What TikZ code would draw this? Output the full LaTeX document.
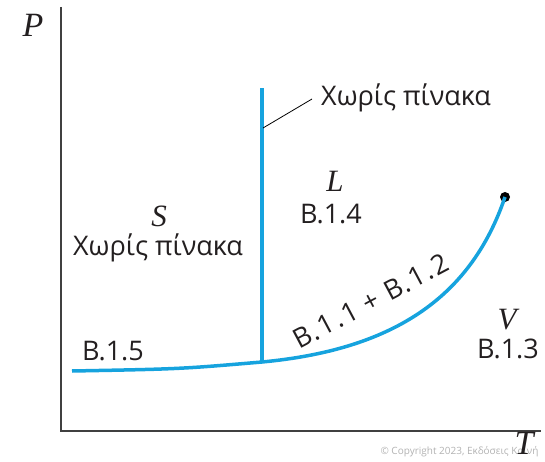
\documentclass[tikz,border=0pt]{standalone}
\usepackage{fontspec}
\setmainfont{Open Sans}
\newfontfamily\varfont{Liberation Serif}
\newfontfamily\espaciada[LetterSpace=7]{Open Sans}
\usetikzlibrary{calc, positioning}
\definecolor{curvablue}{RGB}{22,163,222}
\definecolor{tinta}{RGB}{35,31,32}
\tikzset{
  rotulo/.style={text=tinta, font=\fontsize{27}{29}\selectfont, inner sep=0pt},
  varletra/.style={text=tinta, font=\varfont\itshape\fontsize{31}{33}\selectfont, inner sep=0pt},
  ejeletra/.style={varletra, font=\varfont\itshape\fontsize{34}{36}\selectfont},
  curva/.style={curvablue, line width=3.5pt}
}

\begin{document}
\begin{tikzpicture}[x=1pt, y=-1pt]
\useasboundingbox (0,0) rectangle (545,462);
% Ejes
\coordinate (origen) at (61,431);
\coordinate (ejeP) at (61,7);
\coordinate (ejeT) at (541,431);
\draw[line width=2pt, black!75] (ejeP) -- (origen) -- (ejeT);
\node[ejeletra] (P) at (33,25) {P};
% Curvas de equilibrio
\coordinate (inicio) at (72,371);
\coordinate (triple) at (262,362);
\coordinate (tope) at (262,88);
\node[circle, fill=black, inner sep=0pt, minimum size=10pt] (critico) at (505,197) {};
\draw[curva] (inicio) .. controls (180,369) .. (triple)
  .. controls (390,350) and (470,300) .. (critico.center);
\draw[curva] (triple) -- (tope);
% Rotulos
\coordinate (marca) at (263,128);
\node[rotulo, anchor=west] (sinpinA) at (321,98) {Χωρίς πίνακα};
\draw[line width=0.8pt, black] (marca) -- ($(sinpinA.west)+(-9,1)$);
\node[varletra] (S) at (159,216) {S};
\node[rotulo] (sinpinB) at (158,248) {Χωρίς πίνακα};
\node[varletra] (L) at (335,181) {L};
\node[rotulo] (B14) at (331,214) {B.1.4};
\node[rotulo] (B15) at (113,351) {B.1.5};
\node[varletra] (V) at (507,320) {V};
\node[rotulo] (B13) at (508,349) {B.1.3};
\node[rotulo, font=\espaciada\fontsize{27}{29}\selectfont, rotate=28] (B11) at (371,301) {B.1.1 + B.1.2};
% Marca de agua
\node[text=black!30, font=\fontsize{10}{12}\selectfont, anchor=east] (copy) at (542,452) {© Copyright 2023, Εκδόσεις Κοινή};
\node[ejeletra] (T) at (524,443) {T};
\end{tikzpicture}
\end{document}
